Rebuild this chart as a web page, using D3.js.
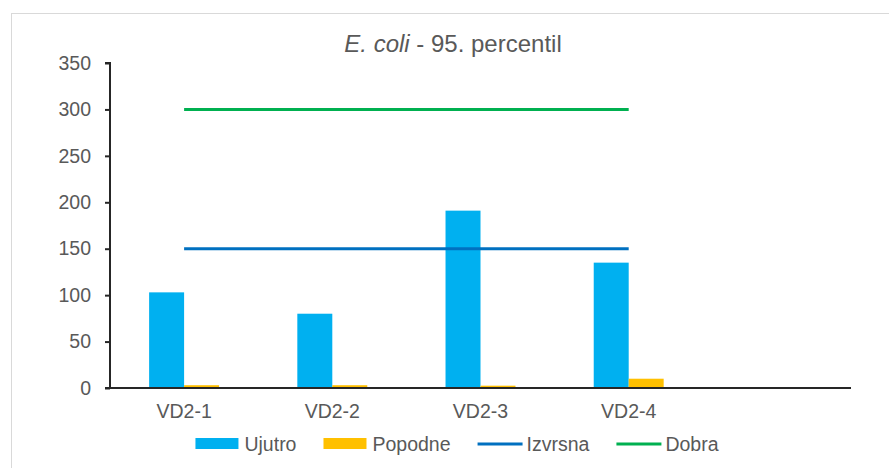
<!DOCTYPE html>
<html>
<head>
<meta charset="utf-8">
<script src="https://cdn.jsdelivr.net/npm/d3@7"></script>
<style>
  body { margin: 0; background: #fff; }
  text { font-family: "Liberation Sans", Arial, sans-serif; fill: #595959; }
</style>
</head>
<body>
<div id="vis"></div>
<script>
// data
const categories = ["VD2-1", "VD2-2", "VD2-3", "VD2-4", ""];
const ujutro = [103, 80, 191, 135];
const popodne = [3, 3, 2.5, 10];
const izvrsna = [150, 150, 150, 150];
const dobra = [300, 300, 300, 300];
const yTicks = [0, 50, 100, 150, 200, 250, 300, 350];

const width = 889, height = 468;
const plotLeft = 110, plotRight = 851, plotTop = 63, plotBottom = 388;

const svg = d3.select("#vis").append("svg")
    .attr("width", width)
    .attr("height", height);

// chart frame
svg.append("rect")
    .attr("x", 11.5).attr("y", 13.5)
    .attr("width", 900).attr("height", 500)
    .attr("fill", "none")
    .attr("stroke", "#d9d9d9")
    .attr("stroke-width", 1);

const x = d3.scaleBand()
    .domain(categories)
    .range([plotLeft, plotRight])
    .paddingInner(0.528)
    .paddingOuter(0.264);

const sub = d3.scaleBand()
    .domain(["Ujutro", "Popodne"])
    .range([0, x.bandwidth()]);

const y = d3.scaleLinear()
    .domain([0, 350])
    .range([plotBottom, plotTop]);

const cx = (c) => x(c) + x.bandwidth() / 2;

// bars
const series = [
  { name: "Ujutro", values: ujutro, color: "#00B0F0" },
  { name: "Popodne", values: popodne, color: "#FFC000" }
];

series.forEach((s) => {
  svg.append("g").selectAll("rect")
      .data(s.values)
      .enter().append("rect")
      .attr("x", (d, i) => x(categories[i]) + sub(s.name))
      .attr("y", (d) => y(d))
      .attr("width", sub.bandwidth())
      .attr("height", (d) => y(0) - y(d))
      .attr("fill", s.color);
});

// threshold lines
const lines = [
  { name: "Izvrsna", values: izvrsna, color: "#0070C0" },
  { name: "Dobra", values: dobra, color: "#00B050" }
];

const line = d3.line()
    .x((d, i) => cx(categories[i]))
    .y((d) => y(d));

lines.forEach((l) => {
  svg.append("path")
      .datum(l.values)
      .attr("d", line)
      .attr("fill", "none")
      .attr("stroke", l.color)
      .attr("stroke-width", 3);
});

// axes
const yAxis = svg.append("g")
    .attr("transform", `translate(${plotLeft},0)`)
    .call(d3.axisLeft(y).tickValues(yTicks).tickSize(5).tickPadding(14));

const xAxis = svg.append("g")
    .attr("transform", `translate(0,${plotBottom})`)
    .call(d3.axisBottom(x).tickSize(0).tickPadding(16));

[yAxis, xAxis].forEach((a) => {
  a.select(".domain").attr("stroke", "#262626").attr("stroke-width", 2);
  a.selectAll(".tick line").attr("stroke", "#262626").attr("stroke-width", 2);
  a.selectAll(".tick text")
      .attr("fill", "#595959")
      .style("font-size", "19.5px")
      .style("font-family", "'Liberation Sans', Arial, sans-serif");
});
yAxis.select(".domain").attr("d", `M-5,${plotTop}H0V${plotBottom}`);
xAxis.select(".domain").attr("d", `M${plotLeft - 5},0H${plotRight}`);

// title
const title = svg.append("text")
    .attr("x", 453)
    .attr("y", 52)
    .attr("text-anchor", "middle")
    .style("font-size", "24px");
title.append("tspan").style("font-style", "italic").text("E. coli");
title.append("tspan").text(" - 95. percentil");

// legend
const legendItems = [
  { name: "Ujutro", color: "#00B0F0", type: "bar" },
  { name: "Popodne", color: "#FFC000", type: "bar" },
  { name: "Izvrsna", color: "#0070C0", type: "line" },
  { name: "Dobra", color: "#00B050", type: "line" }
];

const legend = svg.append("g");
let lx = 0;
legendItems.forEach((d) => {
  const g = legend.append("g").attr("transform", `translate(${lx},0)`);
  if (d.type === "bar") {
    g.append("rect")
        .attr("x", 0).attr("y", -6)
        .attr("width", 43).attr("height", 11)
        .attr("fill", d.color);
  } else {
    g.append("line")
        .attr("x1", 0).attr("x2", 45)
        .attr("y1", 0).attr("y2", 0)
        .attr("stroke", d.color)
        .attr("stroke-width", 3);
  }
  const t = g.append("text")
      .attr("x", 49)
      .attr("y", 7)
      .style("font-size", "19.5px")
      .text(d.name);
  lx += 49 + t.node().getComputedTextLength() + 27;
});
const legendWidth = lx - 27;
legend.attr("transform", `translate(${457 - legendWidth / 2},444)`);
</script>
</body>
</html>
